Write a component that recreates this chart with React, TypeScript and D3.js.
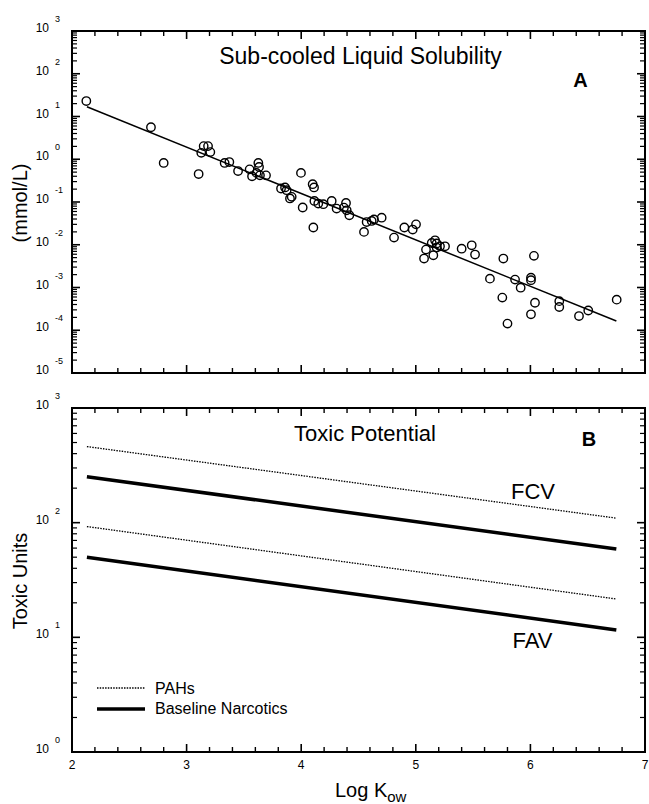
import React from "react";
import * as d3 from "d3";

// ---------- Data ----------
// Panel A: sub-cooled liquid solubility (mmol/L) vs Log Kow
const logKow = [
  2.125, 2.689, 2.8, 3.105, 3.128, 3.149, 3.187, 3.207, 3.332, 3.373, 3.449, 3.55, 3.571,
  3.626, 3.632, 3.61, 3.64, 3.693, 3.998, 3.824, 3.859, 3.873, 3.902, 3.917, 4.013, 4.1,
  4.112, 4.106, 4.115, 4.149, 4.193, 4.266, 4.309, 4.373, 4.391, 4.397, 4.42, 4.548, 4.571,
  4.615, 4.635, 4.702, 4.81, 4.9, 4.973, 5.002, 5.089, 5.072, 5.153, 5.139, 5.168, 5.182,
  5.182, 5.211, 5.255, 5.4, 5.488, 5.517, 5.764, 6.031, 5.647, 5.866, 5.915, 6.005, 6.005,
  5.755, 6.04, 6.005, 5.8, 6.252, 6.252, 6.424, 6.505, 6.753,
];
const solubility = [
  23, 5.6, 0.82, 0.45, 1.41, 2.03, 2.03, 1.47, 0.82, 0.86, 0.53, 0.58, 0.4,
  0.82, 0.66, 0.48, 0.42, 0.42, 0.48, 0.207, 0.219, 0.189, 0.121, 0.132, 0.0743, 0.261,
  0.219, 0.0253, 0.106, 0.092, 0.089, 0.106, 0.07, 0.074, 0.095, 0.064, 0.049, 0.02, 0.034,
  0.036, 0.039, 0.043, 0.0147, 0.0253, 0.0227, 0.03, 0.0077, 0.00475, 0.00568, 0.011, 0.0127, 0.0107,
  0.0086, 0.0092, 0.0092, 0.0081, 0.0097, 0.0059, 0.00475, 0.0055, 0.00161, 0.00153, 0.00099, 0.0017, 0.00148,
  0.00058, 0.00044, 0.000236, 0.000143, 0.00048, 0.00035, 0.000215, 0.00029, 0.00052,
];
const fitX = [2.13, 6.75];
const fitY = [16.9, 0.000164];

// Panel B: toxic potential lines
const lineX = [2.13, 6.75];
const pahFCV = [461, 109.5];
const baseFCV = [251, 59];
const pahFAV = [92.5, 21.6];
const baseFAV = [50, 11.6];

const xTicks = [2, 3, 4, 5, 6, 7];
const topExps = [3, 2, 1, 0, -1, -2, -3, -4, -5];
const botExps = [3, 2, 1, 0];

// ---------- Layout ----------
const W = 649;
const H = 804;
const L = 72;
const R = 645;
const FONT = "'Liberation Sans', Arial, Helvetica, sans-serif";

const x = d3.scaleLinear().domain([2, 7]).range([L, R]);
const yTop = d3.scaleLog().domain([1e-5, 1e3]).range([373, 31]);
const yBot = d3.scaleLog().domain([1, 1e3]).range([752, 408]);

function minorLog(lo: number, hi: number) {
  const out: number[] = [];
  for (let e = lo; e < hi; e++) {
    for (let k = 2; k <= 9; k++) out.push(k * Math.pow(10, e));
  }
  return out;
}

const xMinor = d3.range(2, 7.001, 0.2).filter((v) => Math.abs(v - Math.round(v)) > 1e-6);

function Panel({ y, exps, lo, hi }: { y: d3.ScaleLogarithmic<number, number>; exps: number[]; lo: number; hi: number }) {
  const [yb, yt] = y.range();
  const minors = minorLog(lo, hi);
  return (
    <g>
      <rect x={L} y={yt} width={R - L} height={yb - yt} fill="none" stroke="#000" strokeWidth={2} />
      {xTicks.map((t) => (
        <g key={"xt" + t}>
          <line x1={x(t)} x2={x(t)} y1={yb} y2={yb - 8} stroke="#000" strokeWidth={1.6} />
          <line x1={x(t)} x2={x(t)} y1={yt} y2={yt + 8} stroke="#000" strokeWidth={1.6} />
        </g>
      ))}
      {xMinor.map((t, i) => (
        <g key={"xm" + i}>
          <line x1={x(t)} x2={x(t)} y1={yb} y2={yb - 5} stroke="#000" strokeWidth={1.4} />
          <line x1={x(t)} x2={x(t)} y1={yt} y2={yt + 5} stroke="#000" strokeWidth={1.4} />
        </g>
      ))}
      {exps.map((e) => (
        <g key={"yt" + e}>
          <line x1={L} x2={L + 8} y1={y(Math.pow(10, e))} y2={y(Math.pow(10, e))} stroke="#000" strokeWidth={1.6} />
          <line x1={R} x2={R - 8} y1={y(Math.pow(10, e))} y2={y(Math.pow(10, e))} stroke="#000" strokeWidth={1.6} />
          <text x={49} y={y(Math.pow(10, e)) + 1} textAnchor="end" fontSize={12} fontFamily={FONT}>10</text>
          <text x={55} y={y(Math.pow(10, e)) - 9} textAnchor="start" fontSize={9} fontFamily={FONT}>{e}</text>
        </g>
      ))}
      {minors.map((v, i) => (
        <g key={"ym" + i}>
          <line x1={L} x2={L + 5} y1={y(v)} y2={y(v)} stroke="#000" strokeWidth={1.2} />
          <line x1={R} x2={R - 5} y1={y(v)} y2={y(v)} stroke="#000" strokeWidth={1.2} />
        </g>
      ))}
    </g>
  );
}

export default function App() {
  const fitLine = d3
    .line<number>()
    .x((_, i) => x(fitX[i]))
    .y((d) => yTop(d));
  const botLine = d3
    .line<number>()
    .x((_, i) => x(lineX[i]))
    .y((d) => yBot(d));

  return (
    <svg width={W} height={H} style={{ position: "absolute", left: 0, top: 0, background: "#fff" }} fontFamily={FONT}>
      <rect width={W} height={H} fill="#fff" />
      {/* Panel A */}
      <Panel y={yTop} exps={topExps} lo={-5} hi={3} />
      <path d={fitLine(fitY) || ""} fill="none" stroke="#000" strokeWidth={1.5} />
      {logKow.map((k, i) => (
        <circle key={i} cx={x(k)} cy={yTop(solubility[i])} r={4.2} fill="none" stroke="#000" strokeWidth={1.4} />
      ))}
      <text x={360.5} y={64} textAnchor="middle" fontSize={23}>Sub-cooled Liquid Solubility</text>
      <text x={580.5} y={87} textAnchor="middle" fontSize={20} fontWeight="bold">A</text>
      <text transform="translate(27,203) rotate(-90)" textAnchor="middle" fontSize={20}>(mmol/L)</text>

      {/* Panel B */}
      <Panel y={yBot} exps={botExps} lo={0} hi={3} />
      <path d={botLine(pahFCV) || ""} fill="none" stroke="#000" strokeWidth={1.3} strokeDasharray="1.5 1.2" />
      <path d={botLine(baseFCV) || ""} fill="none" stroke="#000" strokeWidth={3.5} />
      <path d={botLine(pahFAV) || ""} fill="none" stroke="#000" strokeWidth={1.3} strokeDasharray="1.5 1.2" />
      <path d={botLine(baseFAV) || ""} fill="none" stroke="#000" strokeWidth={3.5} />
      <text x={365} y={441} textAnchor="middle" fontSize={22}>Toxic Potential</text>
      <text x={589} y={446} textAnchor="middle" fontSize={20} fontWeight="bold">B</text>
      <text x={533} y={499} textAnchor="middle" fontSize={22}>FCV</text>
      <text x={532.5} y={648} textAnchor="middle" fontSize={22}>FAV</text>
      <text transform="translate(27,581) rotate(-90)" textAnchor="middle" fontSize={20}>Toxic Units</text>

      {/* Legend */}
      <line x1={97} x2={145} y1={688} y2={688} stroke="#000" strokeWidth={1.3} strokeDasharray="1.5 1.2" />
      <text x={155} y={694} fontSize={16}>PAHs</text>
      <line x1={97} x2={145} y1={709} y2={709} stroke="#000" strokeWidth={3.5} />
      <text x={155} y={714} fontSize={16}>Baseline Narcotics</text>

      {/* X tick labels */}
      {xTicks.map((t) => (
        <text key={"xl" + t} x={x(t)} y={769} textAnchor="middle" fontSize={12}>{t}</text>
      ))}
      <text x={335} y={797} fontSize={20}>
        Log K<tspan fontSize={15} dy={5}>ow</tspan>
      </text>
    </svg>
  );
}
